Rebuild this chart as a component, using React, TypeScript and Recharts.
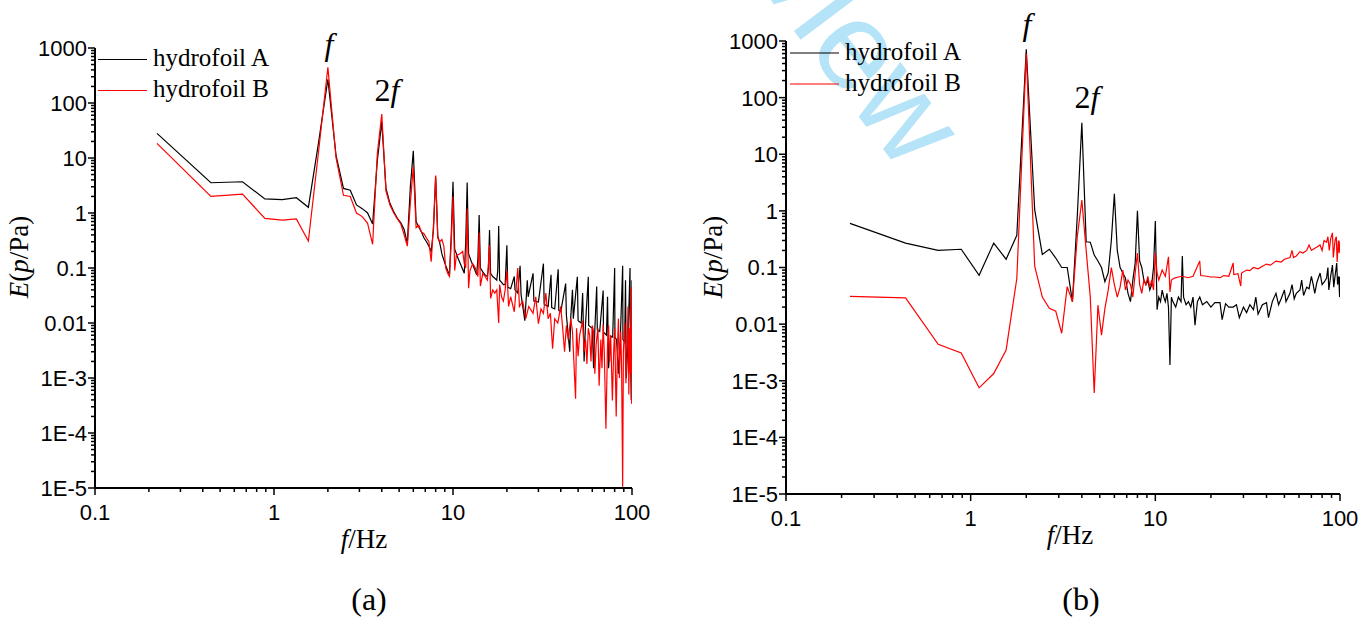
import { LineChart, Line, XAxis, YAxis } from "recharts";

type Pt = [number, number];

// axis labels
const X_MAJOR = [0.1, 1, 10, 100];
const X_LABELS = ["0.1", "1", "10", "100"];
const Y_MAJOR = [1e-5, 1e-4, 1e-3, 0.01, 0.1, 1, 10, 100, 1000];
const Y_LABELS = ["1E-5", "1E-4", "1E-3", "0.01", "0.1", "1", "10", "100", "1000"];
const SERIES_NAMES = ["hydrofoil A", "hydrofoil B"];
const PANEL_TAGS = ["(a)", "(b)"];

// panel (a), hydrofoil A  [f (Hz), E (Pa)]
const A_FOIL_A: Pt[] = [
  [0.222, 28], [0.444, 3.55], [0.667, 3.7], [0.889, 1.8], [1.111, 1.75], [1.333, 1.9],
  [1.556, 1.27], [1.778, 20], [2.0, 270], [2.222, 11], [2.444, 2.8], [2.667, 2.6],
  [2.889, 1.4], [3.111, 1.2], [3.333, 1.0], [3.556, 0.63], [3.778, 9], [4.0, 45],
  [4.222, 2.8], [4.444, 1.5], [4.667, 1.05], [4.889, 0.8], [5.111, 0.66], [5.333, 0.5],
  [5.556, 0.28], [5.778, 3], [6.0, 13.5], [6.222, 0.7], [6.444, 0.55], [6.667, 0.45],
  [6.889, 0.35], [7.111, 0.3], [7.333, 0.25], [7.556, 0.2], [7.778, 0.5], [8.0, 4.5],
  [8.222, 0.38], [8.444, 0.28], [8.667, 0.18], [8.889, 0.14], [9.111, 0.11], [9.333, 0.09],
  [9.556, 0.075], [9.778, 0.4], [10.0, 3.7], [10.22, 0.22], [10.67, 0.15], [11.11, 0.11],
  [11.56, 0.08], [11.78, 0.3], [12.0, 3.6], [12.22, 0.18], [12.67, 0.13], [13.11, 0.1],
  [13.56, 0.075], [13.78, 0.15], [14.0, 0.92], [14.22, 0.1], [14.67, 0.085], [15.11, 0.075],
  [15.56, 0.07], [15.78, 0.1], [16.0, 0.49], [16.22, 0.08], [16.67, 0.07], [17.11, 0.065],
  [17.56, 0.06], [17.78, 0.09], [18.0, 0.58], [18.22, 0.06], [18.67, 0.055], [19.11, 0.05],
  [19.56, 0.05], [20.0, 0.26], [20.22, 0.045], [21.0, 0.042], [22.0, 0.07], [22.2, 0.04],
  [23.0, 0.035], [23.7, 0.11], [24.0, 0.033], [25.2, 0.011], [26.0, 0.06], [26.3, 0.03],
  [28.0, 0.08], [28.3, 0.025], [30.0, 0.024], [32.0, 0.12], [32.3, 0.022], [34.0, 0.02],
  [35.3, 0.075], [35.6, 0.019], [37.0, 0.018], [38.7, 0.095], [39.0, 0.017], [40.0, 0.016],
  [42.6, 0.052], [43.0, 0.014], [44.9, 0.003], [45.5, 0.013], [46.5, 0.04], [47.0, 0.012],
  [49.5, 0.069], [50.0, 0.011], [52.0, 0.01], [53.0, 0.035], [54.0, 0.002], [55.0, 0.0095],
  [57.0, 0.069], [57.3, 0.009], [60.0, 0.008], [61.0, 0.0015], [62.0, 0.0078], [63.5, 0.046],
  [64.0, 0.0075], [66.0, 0.007], [69.0, 0.039], [69.3, 0.0068], [72.0, 0.006], [73.0, 0.03],
  [74.0, 0.0015], [76.0, 0.0058], [78.0, 0.0055], [80.0, 0.1], [80.3, 0.0055], [82.0, 0.005],
  [84.0, 0.0012], [86.0, 0.005], [88.7, 0.11], [89.0, 0.005], [91.0, 0.0045], [92.0, 0.06],
  [93.0, 0.001], [95.0, 0.005], [97.5, 0.1], [97.8, 0.005], [99.0, 0.0004], [100, 0.06],
];

// panel (a), hydrofoil B
const A_FOIL_B: Pt[] = [
  [0.222, 18.5], [0.444, 2.0], [0.667, 2.2], [0.889, 0.8], [1.111, 0.74], [1.333, 0.78],
  [1.556, 0.31], [1.778, 14], [2.0, 446], [2.222, 10], [2.444, 2.1], [2.667, 2.0],
  [2.889, 1.0], [3.111, 0.86], [3.333, 0.65], [3.556, 0.27], [3.778, 12], [4.0, 63],
  [4.222, 2.5], [4.444, 1.4], [4.667, 1.0], [4.889, 0.78], [5.111, 0.63], [5.333, 0.4],
  [5.556, 0.25], [5.778, 1.5], [6.0, 7], [6.222, 0.54], [6.444, 0.6], [6.667, 0.45],
  [6.889, 0.42], [7.111, 0.35], [7.333, 0.3], [7.556, 0.13], [7.778, 0.6], [8.0, 4.8],
  [8.222, 0.35], [8.444, 0.3], [8.667, 0.33], [8.889, 0.25], [9.111, 0.1], [9.333, 0.08],
  [9.556, 0.07], [9.778, 0.3], [10.0, 2.0], [10.22, 0.09], [10.44, 0.17], [10.89, 0.18],
  [11.33, 0.2], [11.56, 0.12], [11.78, 0.1], [12.0, 1.2], [12.22, 0.043], [12.44, 0.09],
  [12.89, 0.12], [13.33, 0.1], [13.78, 0.07], [14.0, 0.44], [14.22, 0.047], [14.67, 0.08],
  [15.11, 0.07], [15.56, 0.06], [16.0, 0.26], [16.22, 0.028], [16.67, 0.04], [17.11, 0.035],
  [17.56, 0.04], [18.0, 0.01], [18.22, 0.05], [18.67, 0.03], [19.11, 0.025], [19.56, 0.04],
  [20.0, 0.09], [20.44, 0.02], [21.0, 0.03], [22.0, 0.016], [23.0, 0.1], [23.5, 0.02],
  [24.5, 0.025], [25.5, 0.012], [26.5, 0.02], [28.0, 0.015], [29.0, 0.03], [30.0, 0.0097],
  [31.0, 0.018], [32.0, 0.015], [33.0, 0.035], [34.0, 0.012], [35.0, 0.015], [36.0, 0.0034],
  [37.0, 0.012], [38.5, 0.01], [40.0, 0.02], [41.0, 0.008], [42.0, 0.003], [43.0, 0.009],
  [44.0, 0.005], [45.5, 0.012], [46.5, 0.007], [48.4, 0.00042], [49.0, 0.008], [50.0, 0.0025],
  [51.0, 0.006], [53.0, 0.011], [54.0, 0.003], [55.0, 0.005], [56.0, 0.0018], [57.0, 0.008],
  [58.0, 0.006], [59.0, 0.002], [60.0, 0.009], [61.0, 0.007], [62.0, 0.0012], [63.0, 0.004],
  [64.5, 0.008], [65.5, 0.00072], [67.0, 0.005], [68.0, 0.0015], [69.0, 0.0095], [70.0, 0.003],
  [71.5, 0.00012], [73.0, 0.004], [74.0, 0.009], [75.0, 0.002], [76.0, 0.006], [77.7, 0.00039],
  [79.0, 0.003], [80.0, 0.008], [81.6, 0.0002], [83.0, 0.004], [84.0, 0.012], [85.0, 0.001],
  [86.5, 0.007], [87.5, 0.0015], [88.7, 0.0000105], [89.5, 0.003], [91.0, 0.01], [92.5, 0.0008],
  [94.0, 0.004], [95.0, 0.02], [96.0, 0.0005], [97.0, 0.008], [98.0, 0.0012], [99.0, 0.045],
  [99.5, 0.00034], [100, 0.001],
];

// panel (b), hydrofoil A
const B_FOIL_A: Pt[] = [
  [0.222, 0.6], [0.444, 0.27], [0.667, 0.2], [0.889, 0.21], [1.111, 0.073], [1.333, 0.27],
  [1.556, 0.14], [1.778, 0.37], [2.0, 713], [2.222, 1.04], [2.444, 0.17], [2.667, 0.21],
  [2.889, 0.147], [3.111, 0.1], [3.333, 0.1], [3.556, 0.025], [3.778, 0.8], [4.0, 36],
  [4.222, 0.285], [4.444, 0.28], [4.667, 0.166], [4.889, 0.13], [5.111, 0.1], [5.333, 0.056],
  [5.556, 0.08], [5.778, 0.3], [6.0, 2.0], [6.222, 0.2], [6.444, 0.1], [6.667, 0.08],
  [6.889, 0.065], [7.111, 0.035], [7.333, 0.025], [7.556, 0.06], [7.778, 0.12], [8.0, 1.0],
  [8.222, 0.13], [8.444, 0.1], [8.667, 0.06], [8.889, 0.05], [9.111, 0.06], [9.333, 0.04],
  [9.556, 0.05], [9.778, 0.1], [10.0, 0.66], [10.22, 0.018], [10.44, 0.03], [10.67, 0.025],
  [10.89, 0.04], [11.11, 0.03], [11.33, 0.025], [11.56, 0.035], [11.78, 0.02], [12.0, 0.0019],
  [12.22, 0.03], [12.44, 0.025], [12.89, 0.02], [13.33, 0.03], [13.78, 0.025], [14.0, 0.16],
  [14.22, 0.03], [14.67, 0.022], [15.11, 0.025], [15.56, 0.02], [16.0, 0.03], [16.4, 0.0096],
  [16.9, 0.025], [17.4, 0.03], [18.0, 0.022], [19.0, 0.025], [20.0, 0.02], [21.0, 0.024],
  [22.4, 0.024], [23.0, 0.012], [24.0, 0.023], [25.0, 0.02], [26.4, 0.02], [27.5, 0.022],
  [28.5, 0.013], [30.0, 0.02], [31.2, 0.016], [32.5, 0.022], [34.0, 0.018], [35.0, 0.03],
  [36.0, 0.015], [38.0, 0.022], [40.0, 0.024], [41.0, 0.013], [43.0, 0.025], [45.0, 0.035],
  [46.5, 0.022], [48.0, 0.028], [50.0, 0.04], [51.0, 0.025], [53.6, 0.035], [55.0, 0.05],
  [56.5, 0.028], [58.0, 0.035], [60.7, 0.04], [62.0, 0.06], [63.5, 0.032], [66.0, 0.045],
  [68.0, 0.042], [70.0, 0.07], [71.6, 0.05], [73.0, 0.035], [75.0, 0.055], [78.0, 0.08],
  [80.0, 0.05], [82.0, 0.055], [84.6, 0.065], [86.0, 0.1], [87.0, 0.04], [89.0, 0.07],
  [91.0, 0.11], [92.5, 0.045], [94.0, 0.07], [96.0, 0.12], [97.0, 0.05], [98.5, 0.07],
  [99.5, 0.03], [100, 0.068],
];

// panel (b), hydrofoil B
const B_FOIL_B: Pt[] = [
  [0.222, 0.031], [0.444, 0.029], [0.667, 0.0044], [0.889, 0.0031], [1.111, 0.00075],
  [1.333, 0.00134], [1.556, 0.0035], [1.778, 0.064], [2.0, 600], [2.222, 0.106], [2.444, 0.03],
  [2.667, 0.019], [2.889, 0.017], [3.111, 0.0069], [3.333, 0.046], [3.556, 0.025], [3.778, 0.35],
  [4.0, 1.55], [4.222, 0.2], [4.444, 0.03], [4.667, 0.00061], [4.889, 0.0216], [5.111, 0.0064],
  [5.333, 0.019], [5.556, 0.04], [5.778, 0.1], [6.0, 0.05], [6.222, 0.03], [6.444, 0.045],
  [6.667, 0.09], [6.889, 0.04], [7.111, 0.06], [7.333, 0.05], [7.556, 0.03], [7.778, 0.08],
  [8.0, 0.18], [8.222, 0.05], [8.444, 0.035], [8.667, 0.06], [8.889, 0.05], [9.111, 0.07],
  [9.333, 0.045], [9.556, 0.06], [9.778, 0.04], [10.0, 0.18], [10.22, 0.08], [10.44, 0.06],
  [10.89, 0.09], [11.33, 0.07], [11.78, 0.155], [12.0, 0.037], [12.22, 0.06], [12.67, 0.065],
  [13.33, 0.068], [14.0, 0.07], [15.0, 0.066], [16.0, 0.07], [17.4, 0.13], [17.6, 0.072],
  [19.0, 0.07], [20.0, 0.068], [21.0, 0.068], [22.4, 0.066], [23.5, 0.072], [25.0, 0.07],
  [26.4, 0.12], [26.6, 0.075], [28.0, 0.078], [29.0, 0.047], [29.3, 0.08], [31.2, 0.09],
  [32.5, 0.088], [34.0, 0.1], [36.0, 0.095], [38.0, 0.105], [40.0, 0.115], [42.0, 0.11],
  [45.0, 0.13], [48.0, 0.125], [50.0, 0.14], [53.6, 0.15], [55.0, 0.2], [56.0, 0.15],
  [58.0, 0.16], [60.7, 0.19], [63.0, 0.18], [66.0, 0.2], [68.0, 0.25], [70.0, 0.2],
  [71.6, 0.21], [75.0, 0.23], [78.0, 0.25], [80.0, 0.2], [82.0, 0.3], [84.6, 0.28],
  [86.0, 0.35], [87.5, 0.2], [89.0, 0.32], [91.0, 0.41], [92.0, 0.15], [94.0, 0.3],
  [95.5, 0.35], [96.5, 0.125], [98.0, 0.3], [99.0, 0.18], [100, 0.3],
];

const SERIF = "'Liberation Serif', 'Times New Roman', serif";
const SANS = "'Liberation Sans', Arial, sans-serif";
const serif = { fontFamily: SERIF };
const tickFont = { fontFamily: SANS, fontSize: 22 };

const toRows = (pts: Pt[]) => pts.map(([f, e]) => ({ f, e }));

// minor ticks 1..9 inside each decade
function logTicks(majors: number[]) {
  const out: number[] = [];
  for (let i = 0; i < majors.length - 1; i++) {
    for (let k = 1; k < 10; k++) out.push(majors[i] * k);
  }
  out.push(majors[majors.length - 1]);
  return out;
}
const X_TICKS = logTicks(X_MAJOR);
const Y_TICKS = logTicks(Y_MAJOR);

function majorIndex(v: number, majors: number[]) {
  return majors.findIndex((m) => Math.abs(Math.log10(v) - Math.log10(m)) < 1e-6);
}

function XTick(props: any) {
  const { x, y, payload } = props;
  const i = majorIndex(payload.value, X_MAJOR);
  return (
    <g>
      <line x1={x} x2={x} y1={y} y2={y + (i >= 0 ? 7 : 4)} stroke="#000" strokeWidth={1.5} />
      {i >= 0 && (
        <text x={x} y={y + 32} textAnchor="middle" style={tickFont} fill="#000">
          {X_LABELS[i]}
        </text>
      )}
    </g>
  );
}

function YTick(props: any) {
  const { x, y, payload } = props;
  const i = majorIndex(payload.value, Y_MAJOR);
  return (
    <g>
      <line x1={x - (i >= 0 ? 7 : 4)} x2={x} y1={y} y2={y} stroke="#000" strokeWidth={1.5} />
      {i >= 0 && (
        <text x={x - 8} y={y} dy="0.36em" textAnchor="end" style={tickFont} fill="#000">
          {Y_LABELS[i]}
        </text>
      )}
    </g>
  );
}

function Panel({ a, b, width, height, margin, yWidth, xHeight }: {
  a: Pt[]; b: Pt[]; width: number; height: number;
  margin: { top: number; right: number; left: number; bottom: number };
  yWidth: number; xHeight: number;
}) {
  return (
    <LineChart width={width} height={height} margin={margin}>
      <XAxis
        dataKey="f" type="number" scale="log" domain={[0.1, 100]} allowDataOverflow
        ticks={X_TICKS} interval={0} tickSize={0} tickMargin={0} height={xHeight}
        tick={<XTick />} axisLine={{ stroke: "#000", strokeWidth: 2 }}
      />
      <YAxis
        dataKey="e" type="number" scale="log" domain={[1e-5, 1000]} allowDataOverflow
        ticks={Y_TICKS} interval={0} tickSize={0} tickMargin={0} width={yWidth}
        tick={<YTick />} axisLine={{ stroke: "#000", strokeWidth: 2 }}
      />
      <Line data={toRows(a)} dataKey="e" name={SERIES_NAMES[0]} stroke="#000" strokeWidth={1.2}
        dot={false} isAnimationActive={false} type="linear" />
      <Line data={toRows(b)} dataKey="e" name={SERIES_NAMES[1]} stroke="#ff0000" strokeWidth={1.2}
        dot={false} isAnimationActive={false} type="linear" />
    </LineChart>
  );
}

function YTitle({ x, y }: { x: number; y: number }) {
  return (
    <text x={x} y={y} transform={`rotate(-90 ${x} ${y})`} textAnchor="middle" style={serif} fontSize={27}>
      <tspan fontStyle="italic">E</tspan>(<tspan fontStyle="italic">p</tspan>/Pa)
    </text>
  );
}

function XTitle({ x, y }: { x: number; y: number }) {
  return (
    <text x={x} y={y} textAnchor="middle" style={serif} fontSize={27}>
      <tspan fontStyle="italic">f</tspan>/Hz
    </text>
  );
}

function LegendBox({ x, y }: { x: number; y: number }) {
  return (
    <g fontSize={25}>
      <line x1={x} x2={x + 49} y1={y} y2={y} stroke="#000" strokeWidth={1.2} />
      <text x={x + 55} y={y + 6.5} style={serif}>{SERIES_NAMES[0]}</text>
      <line x1={x} x2={x + 49} y1={y + 31} y2={y + 31} stroke="#ff0000" strokeWidth={1.2} />
      <text x={x + 55} y={y + 37.5} style={serif}>{SERIES_NAMES[1]}</text>
    </g>
  );
}

function PeakMarks({ fx, fy, hx, hy }: { fx: number; fy: number; hx: number; hy: number }) {
  return (
    <g fontSize={32}>
      <text x={fx} y={fy} textAnchor="middle" fontStyle="italic" style={serif}>f</text>
      <text x={hx} y={hy} textAnchor="middle" style={serif}>2<tspan fontStyle="italic">f</tspan></text>
    </g>
  );
}

export default function App() {
  return (
    <div style={{ position: "fixed", left: 0, top: 0, width: 1371, height: 619, background: "#fff", overflow: "hidden" }}>
      {/* watermark */}
      <svg width={1371} height={619} style={{ position: "absolute", left: 0, top: 0 }}>
        <text x={902} y={174} transform="rotate(53 902 174)" textAnchor="end"
          style={{ fontFamily: SANS }} fontSize={125} fill="#b5e3f8">Review</text>
      </svg>
      <div style={{ position: "absolute", left: 0, top: 0 }}>
        <Panel a={A_FOIL_A} b={A_FOIL_B} width={660} height={540}
          margin={{ top: 48, right: 28, left: 0, bottom: 0 }} yWidth={95} xHeight={52} />
      </div>
      <div style={{ position: "absolute", left: 700, top: 0 }}>
        <Panel a={B_FOIL_A} b={B_FOIL_B} width={671} height={540}
          margin={{ top: 41, right: 31, left: 0, bottom: 0 }} yWidth={86} xHeight={46} />
      </div>
      <svg width={1371} height={619} style={{ position: "absolute", left: 0, top: 0, pointerEvents: "none" }}>
        <LegendBox x={98} y={59.5} />
        <LegendBox x={790} y={53} />
        <PeakMarks fx={329} fy={55} hx={387} hy={101} />
        <PeakMarks fx={1027} fy={35} hx={1087} hy={108} />
        <YTitle x={28} y={257} />
        <YTitle x={722} y={257} />
        <XTitle x={364} y={548} />
        <XTitle x={1070} y={544} />
        <text x={369} y={610} textAnchor="middle" style={serif} fontSize={32}>{PANEL_TAGS[0]}</text>
        <text x={1081} y={610} textAnchor="middle" style={serif} fontSize={32}>{PANEL_TAGS[1]}</text>
      </svg>
    </div>
  );
}
